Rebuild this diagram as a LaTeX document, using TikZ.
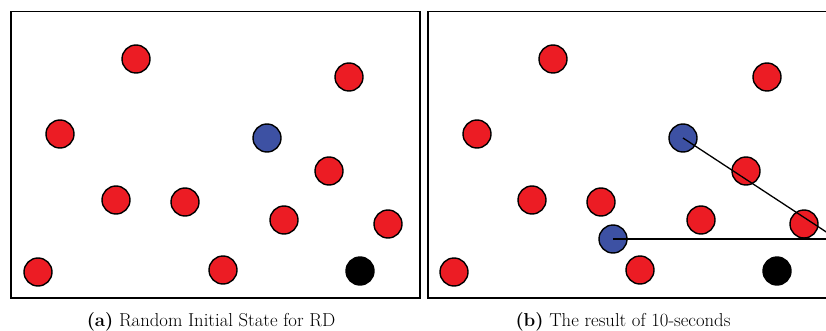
\documentclass[tikz,border=0pt]{standalone}
\usepackage{tikz}
\definecolor{ballred}{HTML}{EC1C24}
\definecolor{ballblue}{HTML}{3D51A3}
\tikzset{
  ball/.style={circle, draw=black, line width=1.4pt, minimum size=28pt, inner sep=0pt},
  redball/.style={ball, fill=ballred},
  blueball/.style={ball, fill=ballblue},
  blackball/.style={ball, fill=black},
  panel/.style={draw=black, line width=1.5pt},
  ray/.style={draw=black, line width=1.3pt},
  captext/.style={font=\fontsize{18.7}{20}\selectfont, anchor=base}
}
\begin{document}
\begin{tikzpicture}[x=1pt,y=-1pt]
\useasboundingbox (0,0) rectangle (826,331);
\clip (0,0) rectangle (826,331);
% panel a
\node[panel, minimum width=409pt, minimum height=286pt, inner sep=0pt, anchor=north west] (pa) at (10,11) {};
\node[redball] (a1) at (136,59) {};
\node[redball] (a2) at (349,77) {};
\node[redball] (a3) at (60,134) {};
\node[blueball] (a4) at (267,138) {};
\node[redball] (a5) at (329,171) {};
\node[redball] (a6) at (116,200) {};
\node[redball] (a7) at (185,202) {};
\node[redball] (a8) at (284,220) {};
\node[redball] (a9) at (388,224) {};
\node[redball] (a10) at (38,272) {};
\node[redball] (a11) at (223,270) {};
\node[blackball] (a12) at (360,271) {};
\node[captext] (capa) at (211,326) {\textbf{(a)} Random Initial State for RD};
% panel b
\node[panel, minimum width=420pt, minimum height=286pt, inner sep=0pt, anchor=north west] (pb) at (427,11) {};
\node[redball] (b1) at (553,59) {};
\node[redball] (b2) at (767,77) {};
\node[redball] (b3) at (477,134) {};
\node[blueball] (b4) at (683,138) {};
\node[redball] (b5) at (746,171) {};
\node[redball] (b6) at (532,200) {};
\node[redball] (b7) at (601,202) {};
\node[redball] (b8) at (701,220) {};
\node[redball] (b9) at (804,224) {};
\node[blueball] (b10) at (613,239) {};
\node[redball] (b11) at (454,272) {};
\node[redball] (b12) at (640,270) {};
\node[blackball] (b13) at (777,271) {};
\coordinate (e1) at (840,241);
\coordinate (e2) at (840,239);
\draw[ray] (b4.center) -- (e1);
\draw[ray] (b10.center) -- (e2);
\node[captext] (capb) at (623,326) {\textbf{(b)} The result of 10-seconds};
\end{tikzpicture}
\end{document}
